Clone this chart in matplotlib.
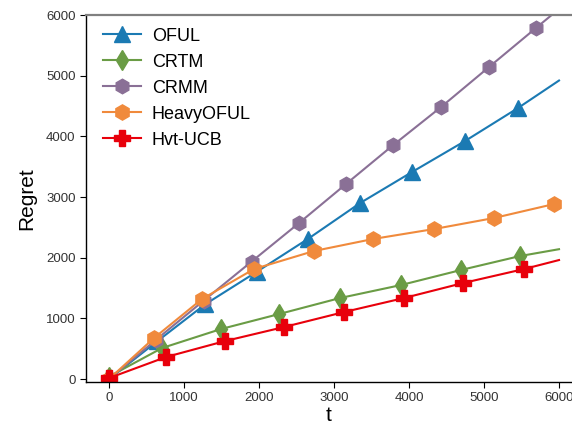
import matplotlib
matplotlib.use("Agg")
import matplotlib.pyplot as plt

plt.rcParams['font.family'] = ['Liberation Sans', 'DejaVu Sans']

# values (t, regret) at marker positions + line end
oful_t = [0, 640, 1280, 1973, 2653, 3347, 4040, 4747, 5453, 6000]
oful_r = [0, 620, 1230, 1770, 2310, 2900, 3412, 3923, 4467, 4920]

crtm_t = [0, 707, 1493, 2267, 3080, 3893, 4693, 5480, 6000]
crtm_r = [40, 511, 824, 1071, 1335, 1549, 1797, 2027, 2140]

crmm_t = [0, 630, 1260, 1900, 2533, 3160, 3790, 4427, 5067, 5693, 6000]
crmm_r = [0, 650, 1290, 1935, 2571, 3214, 3857, 4483, 5143, 5786, 6100]

heavy_t = [0, 600, 1240, 1933, 2733, 3520, 4333, 5133, 5933, 6000]
heavy_r = [0, 676, 1319, 1813, 2110, 2308, 2472, 2654, 2884, 2900]

hvt_t = [0, 760, 1547, 2333, 3133, 3933, 4720, 5533, 6000]
hvt_r = [16, 363, 626, 857, 1104, 1335, 1582, 1813, 1961]

series = [
    ("OFUL", oful_t, oful_r, '#1b7ab3', '^', 11),
    ("CRTM", crtm_t, crtm_r, '#6a9c45', 'd', 10.5),
    ("CRMM", crmm_t, crmm_r, '#8a7096', 'h', 10.5),
    ("HeavyOFUL", heavy_t, heavy_r, '#f08a3c', 'h', 11),
    ("Hvt-UCB", hvt_t, hvt_r, '#e8000b', 'P', 11),
]

fig = plt.figure(figsize=(5.72, 4.24), dpi=100)
ax = fig.add_axes([86 / 572, 42 / 424, (572 - 86) / 572, 367 / 424])

for name, t, r, c, m, ms in series:
    # last point is only the line end, no marker there
    ax.plot(t, r, color=c, lw=1.5, marker=m, markersize=ms,
            markevery=list(range(len(t) - 1)), label=name)

ax.set_xlim(-307, 6173)
ax.set_ylim(-49, 6000)
ax.set_xticks([0, 1000, 2000, 3000, 4000, 5000, 6000])
ax.set_yticks([0, 1000, 2000, 3000, 4000, 5000, 6000])
ax.tick_params(labelsize=9.5, labelcolor='#333333', length=4, width=0.8)

ax.spines['right'].set_visible(False)
ax.spines['top'].set_color('#808080')
ax.spines['top'].set_linewidth(1.6)
ax.spines['left'].set_linewidth(1.0)
ax.spines['bottom'].set_linewidth(1.0)

ax.set_xlabel("t", fontsize=15, labelpad=1)
ax.set_ylabel("Regret", fontsize=15, labelpad=7)

ax.legend(loc='upper left', frameon=False, fontsize=13, handlelength=2.1,
          handletextpad=0.6, labelspacing=0.5, borderaxespad=0.3,
          bbox_to_anchor=(0.009, 1.0))

fig.savefig("out.png", dpi=100)
